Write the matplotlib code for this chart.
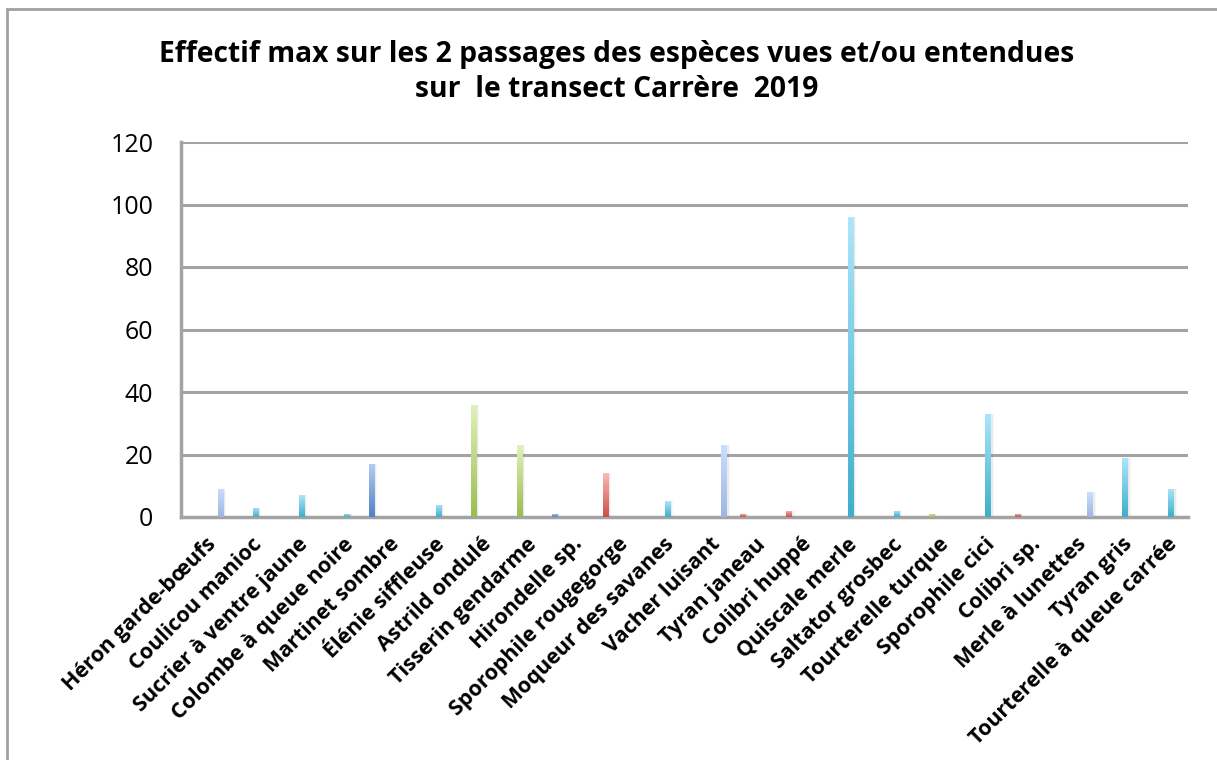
import numpy as np
import matplotlib
matplotlib.use('Agg')
from matplotlib import pyplot as plt
from matplotlib.colors import LinearSegmentedColormap
from matplotlib.patches import Rectangle
from matplotlib.transforms import ScaledTranslation

#%% Data
species = ['Héron garde-bœufs', 'Coulicou manioc', 'Sucrier à ventre jaune',
           'Colombe à queue noire', 'Martinet sombre', 'Élénie siffleuse',
           'Astrild ondulé', 'Tisserin gendarme', 'Hirondelle sp.',
           'Sporophile rougegorge', 'Moqueur des savanes', 'Vacher luisant',
           'Tyran janeau', 'Colibri huppé', 'Quiscale merle', 'Saltator grosbec',
           'Tourterelle turque', 'Sporophile cici', 'Colibri sp.',
           'Merle à lunettes', 'Tyran gris', 'Tourterelle à queue carrée']
effectif = [9, 3, 7, 1, 17, 4, 36, 23, 1, 14, 5, 23, 1, 2, 96, 2, 1, 33, 1, 8, 19, 9]
groupe = ['lavande', 'cyan', 'cyan', 'cyan', 'bleu', 'cyan', 'vert', 'vert', 'bleu',
          'rouge', 'cyan', 'lavande', 'rouge', 'rouge', 'cyan', 'cyan', 'vert',
          'cyan', 'rouge', 'lavande', 'cyan', 'cyan']
yticks = [0, 20, 40, 60, 80, 100, 120]
title = 'Effectif max sur les 2 passages des espèces vues et/ou entendues\nsur  le transect Carrère  2019'

#%% Style
# slot of each series inside a category cluster, and gradient colours (top, bottom)
slot = {'bleu': 1, 'rouge': 2, 'vert': 3, 'cyan': 5, 'lavande': 7}
grad = {'bleu': ('#b4cdf5', '#4f81c4'),
        'rouge': ('#fbbab5', '#c9504a'),
        'vert': ('#e0f3b8', '#9bbb50'),
        'cyan': ('#aee6fb', '#3eaecb'),
        'lavande': ('#cadeff', '#9db7e2')}
slot_w = 0.1164
bar_w = 0.13
gridc = '#a3a3a3'

plt.rcParams['font.family'] = ['Open Sans', 'DejaVu Sans']

fig = plt.figure(figsize=(12.17, 7.60), dpi=100)
ax = fig.add_axes([181/1217, 1 - 517/760, (1188 - 181)/1217, (517 - 142)/760])

x = np.arange(len(species))
xpos = x + 0.052 + slot_w * np.array([slot[g] for g in groupe])

# soft shadow
for dx, a in [(0.03, 0.10), (0.055, 0.06)]:
    ax.bar(xpos + dx, effectif, width=bar_w, color='#808080', alpha=a, zorder=2, linewidth=0)

bars = ax.bar(xpos, effectif, width=bar_w, color='none', linewidth=0, zorder=3)
grad_img = np.linspace(1, 0, 256).reshape(-1, 1)
for b, g in zip(bars, groupe):
    cm = LinearSegmentedColormap.from_list('g', [grad[g][1], grad[g][0]])
    x0, y0 = b.get_x(), b.get_y()
    w, h = b.get_width(), b.get_height()
    im = ax.imshow(grad_img, cmap=cm, extent=[x0, x0 + w, y0, y0 + h],
                   aspect='auto', zorder=4, vmin=0, vmax=1)
    im.set_clip_path(b)

ax.set_xlim(0, len(species))
ax.set_ylim(0, 120)
ax.set_yticks(yticks)
ax.set_yticklabels([str(v) for v in yticks], fontsize=18)
ax.yaxis.grid(True, color=gridc, linewidth=2.2, zorder=1)
ax.set_axisbelow(True)
ax.tick_params(axis='y', length=0, pad=20)
ax.tick_params(axis='x', length=0, pad=10)
ax.set_xticks(x + 0.5)
ax.set_xticklabels(species, rotation=45, ha='right', va='top',
                   rotation_mode='anchor', fontsize=15.5, fontweight='bold')
# small nudge of the labels, like the original
shift = ScaledTranslation(2/100, -3/100, fig.dpi_scale_trans)
for lbl in ax.get_xticklabels():
    lbl.set_transform(lbl.get_transform() + shift)
for s in ['top', 'right']:
    ax.spines[s].set_visible(False)
for s in ['left', 'bottom']:
    ax.spines[s].set_color(gridc)
    ax.spines[s].set_linewidth(2.5)

fig.text(617/1217, 1 - 72/760, title, ha='center', va='center',
         fontsize=20.3, fontweight='bold', linespacing=1.25)

# outer chart frame
fig.patches.append(Rectangle((7/1217, -0.1), 1.2, 1 - 9/760 + 0.1,
                             transform=fig.transFigure, fill=False,
                             edgecolor='#a0a0a0', linewidth=2))

fig.savefig('out.png', dpi=100)
